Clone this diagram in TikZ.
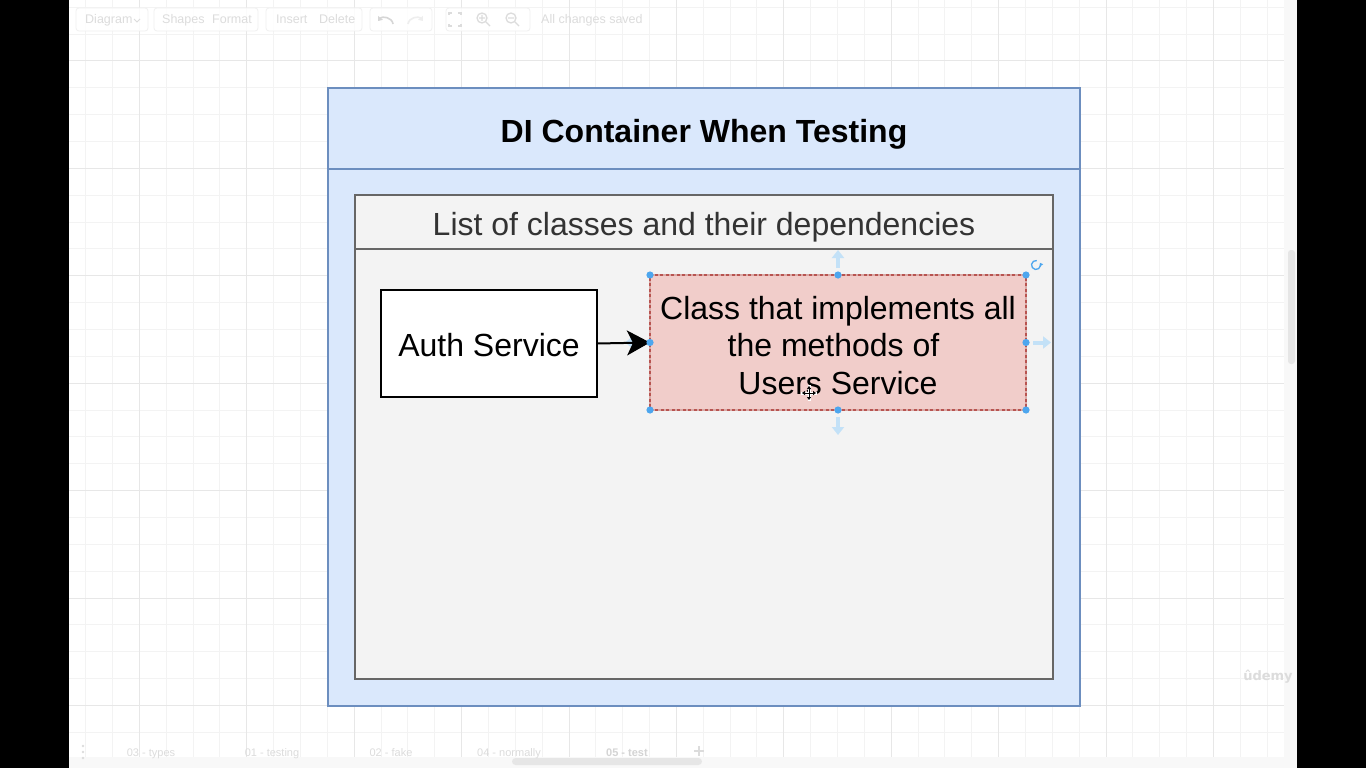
\documentclass[tikz,border=0pt]{standalone}
\usepackage{fontspec}
\setmainfont{Liberation Sans}
\newfontfamily\symfont{DejaVu Sans}
\usetikzlibrary{arrows.meta,calc}

\definecolor{gridminor}{HTML}{F3F3F3}
\definecolor{gridmajor}{HTML}{E7E7E7}
\definecolor{uifaint}{HTML}{DCDCDC}
\definecolor{uiline}{HTML}{F0F0F0}
\definecolor{stripGray}{HTML}{F8F8F8}
\definecolor{scrollGray}{HTML}{E6E6E6}
\definecolor{undoGray}{HTML}{D6D6D6}
\definecolor{redoGray}{HTML}{EEEEEE}
\definecolor{tabActive}{HTML}{D4D4D4}
\definecolor{blueFill}{HTML}{DAE8FC}
\definecolor{blueLine}{HTML}{6C8EBF}
\definecolor{grayFill}{HTML}{F3F3F3}
\definecolor{grayLine}{HTML}{666666}
\definecolor{redFill}{HTML}{F1CDCA}
\definecolor{redLine}{HTML}{B85450}
\definecolor{redDash}{HTML}{D8A9A6}
\definecolor{handleBlue}{HTML}{4DA6EE}
\definecolor{hoverBlue}{HTML}{C3E1F7}
\definecolor{textDark}{HTML}{333333}

\tikzset{
  big/.style={font=\fontsize{32}{37.5}\selectfont},
  outerbox/.style={draw=blueLine, fill=blueFill, line width=2.2pt, inner sep=0pt, outer sep=0pt},
  listbox/.style={draw=grayLine, fill=grayFill, line width=2.2pt, inner sep=0pt, outer sep=0pt},
  authbox/.style={draw=black, fill=white, line width=2.2pt, inner sep=0pt, outer sep=0pt},
  implbox/.style={fill=redFill, inner sep=0pt, outer sep=0pt},
  boxlabel/.style={big, align=center, inner sep=0pt},
  conn/.style={line width=2pt, -{Stealth[length=23pt, width=25pt, inset=6pt]}},
  handle/.style={fill=handleBlue},
  hover/.style={hoverBlue, line width=4pt, -{Triangle[length=8pt, width=12pt]}},
  tbgroup/.style={draw=uiline, fill=white, fill opacity=0.85, rounded corners=3pt, line width=0.8pt},
  tbtext/.style={text=uifaint, font=\fontsize{12.5}{14}\selectfont, anchor=base west, inner sep=0pt},
  tabtext/.style={text=uifaint, font=\fontsize{11}{13}\selectfont, anchor=base, inner sep=0pt},
}

\begin{document}
\begin{tikzpicture}[x=1pt, y=-1pt]
\useasboundingbox (0,0) rectangle (1366,768);

% canvas and side bars
\fill[black] (0,0) rectangle (1366,768);
\fill[white] (69,0) rectangle (1297,768);

% background grid
\foreach \i in {0,...,44} {
  \draw[gridminor, line width=0.8pt] ({85.6+\i*26.85},0) -- ({85.6+\i*26.85},757);
}
\foreach \j in {0,...,27} {
  \draw[gridminor, line width=0.8pt] (69,{7.2+\j*26.85}) -- (1284,{7.2+\j*26.85});
}
\foreach \k in {0,...,10} {
  \draw[gridmajor, line width=0.8pt] ({139.3+\k*107.4},0) -- ({139.3+\k*107.4},757);
}
\foreach \k in {0,...,6} {
  \draw[gridmajor, line width=0.8pt] (69,{60.9+\k*107.4}) -- (1284,{60.9+\k*107.4});
}

% right scroll strip and bottom tab strip
\fill[stripGray] (1284,0) rectangle (1297,768);
\fill[scrollGray, rounded corners=3pt] (1288,250) rectangle (1295,364);
\fill[stripGray] (69,757) rectangle (1284,768);
\fill[scrollGray, rounded corners=3.5pt] (512,758) rectangle (702,765);

% toolbar
\draw[tbgroup] (76,8) rectangle (148,31);
\draw[tbgroup] (154,8) rectangle (258,31);
\draw[tbgroup] (266,8) rectangle (362,31);
\draw[tbgroup] (370,8) rectangle (432,31);
\draw[tbgroup] (446,8) rectangle (530,31);
\node[tbtext] (tbDiagram) at (85,24) {Diagram};
\draw[uifaint, line width=0.8pt] (134,19) -- (137,22) -- (140,19);
\node[tbtext] (tbShapes) at (162,24) {Shapes};
\node[tbtext] (tbFormat) at (212,24) {Format};
\node[tbtext] (tbInsert) at (276,24) {Insert};
\node[tbtext] (tbDelete) at (319,24) {Delete};
\node[tbtext] (tbSaved) at (541,24) {All changes saved};
% undo / redo
\draw[undoGray, line width=1.6pt, -{Triangle[length=4pt,width=6pt]}] (393,24) .. controls (392,17) and (382,16) .. (378,21);
\draw[redoGray, line width=1.6pt, -{Triangle[length=4pt,width=6pt]}] (408,24) .. controls (409,17) and (419,16) .. (423,21);
% fit and zoom icons
\draw[uifaint, line width=1.3pt] (449,15) -- (449,13) -- (452,13) (458,13) -- (461,13) -- (461,15)
  (461,24) -- (461,26) -- (458,26) (452,26) -- (449,26) -- (449,24);
\draw[uifaint, line width=1.3pt] (482,18) circle (5pt) (486,22) -- (490,26) (479,18) -- (485,18) (482,15) -- (482,21);
\draw[uifaint, line width=1.3pt] (511,18) circle (5pt) (515,22) -- (519,26) (508,18) -- (514,18);

% page tabs
\foreach \yy in {746,752,758} { \fill[uifaint] (83,\yy) circle (1.4pt); }
\node[tabtext] (tab3) at (151,756) {03 - types};
\node[tabtext] (tab1) at (272,756) {01 - testing};
\node[tabtext] (tab2) at (391,756) {02 - fake};
\node[tabtext] (tab4) at (509,756) {04 - normally};
\node[tabtext, text=tabActive, font=\fontsize{11}{13}\bfseries] (tab5) at (627,756) {05 - test};
\draw[uifaint, line width=1.6pt] (694,751) -- (704,751) (699,746) -- (699,756);

% watermark
\node[text=uifaint, font=\fontsize{13}{13}\bfseries\symfont, inner sep=0pt] (mark) at (1268,677) {ûdemy};

% container
\node[outerbox, minimum width=752pt, minimum height=618pt, anchor=north west] (container) at (328,88) {};
\draw[blueLine, line width=2.2pt] (328,169) -- (1080,169);
\node[big, font=\fontsize{32}{37.5}\bfseries, anchor=base, inner sep=0pt] (title) at (704,142) {DI Container When Testing};

% class list
\node[listbox, minimum width=698pt, minimum height=484pt, anchor=north west] (list) at (355,195) {};
\draw[grayLine, line width=2.2pt] (355,249) -- (1053,249);
\node[big, text=textDark, anchor=base, inner sep=0pt] (listTitle) at (704,235) {List of classes and their dependencies};

% classes
\node[authbox, minimum width=216pt, minimum height=107pt, anchor=north west] (auth) at (381,290) {};
\node[boxlabel] (authLabel) at ($(auth.center)+(0,2)$) {Auth Service};
\node[implbox, minimum width=376pt, minimum height=135pt, anchor=north west] (impl) at (650,275) {};
\node[boxlabel] (implLabel) at ($(impl.center)+(0,3)$)
  {Class that implements all\\the methods of\rule{9pt}{0pt}\\Users Service};
\draw[redLine, line width=1.8pt] (impl.north west) rectangle (impl.south east);
\draw[redDash, line width=1.8pt, dash pattern=on 2.5pt off 3pt] (impl.north west) rectangle (impl.south east);

% hover arrows around the selected class
\draw[hover] ($(impl.west)+(-7,0)$) -- ++(-18,0);
\draw[hover] ($(impl.north)+(0,-7)$) -- ++(0,-18);
\draw[hover] ($(impl.east)+(7,0)$) -- ++(18,0);
\draw[hover] ($(impl.south)+(0,7)$) -- ++(0,18);

% dependency
\draw[conn] (auth.east) -- (impl.west);

% selection handles
\foreach \a in {north west, north, north east, west, east, south west, south, south east} {
  \fill[handle] (impl.\a) circle (3.6pt);
}
\draw[handleBlue, line width=1.3pt, -{Triangle[length=3pt,width=4pt]}]
  ($(impl.north east)+(10,-10)$) ++(80:4.5pt) arc[start angle=80, end angle=390, radius=4.5pt];

% move cursor
\draw[white, line width=3pt] (801,393) -- (817,393) (809,385) -- (809,401);
\draw[black, line width=1pt, {Triangle[length=3pt,width=4pt]}-{Triangle[length=3pt,width=4pt]}] (802,393) -- (816,393);
\draw[black, line width=1pt, {Triangle[length=3pt,width=4pt]}-{Triangle[length=3pt,width=4pt]}] (809,386) -- (809,400);
\end{tikzpicture}
\end{document}
